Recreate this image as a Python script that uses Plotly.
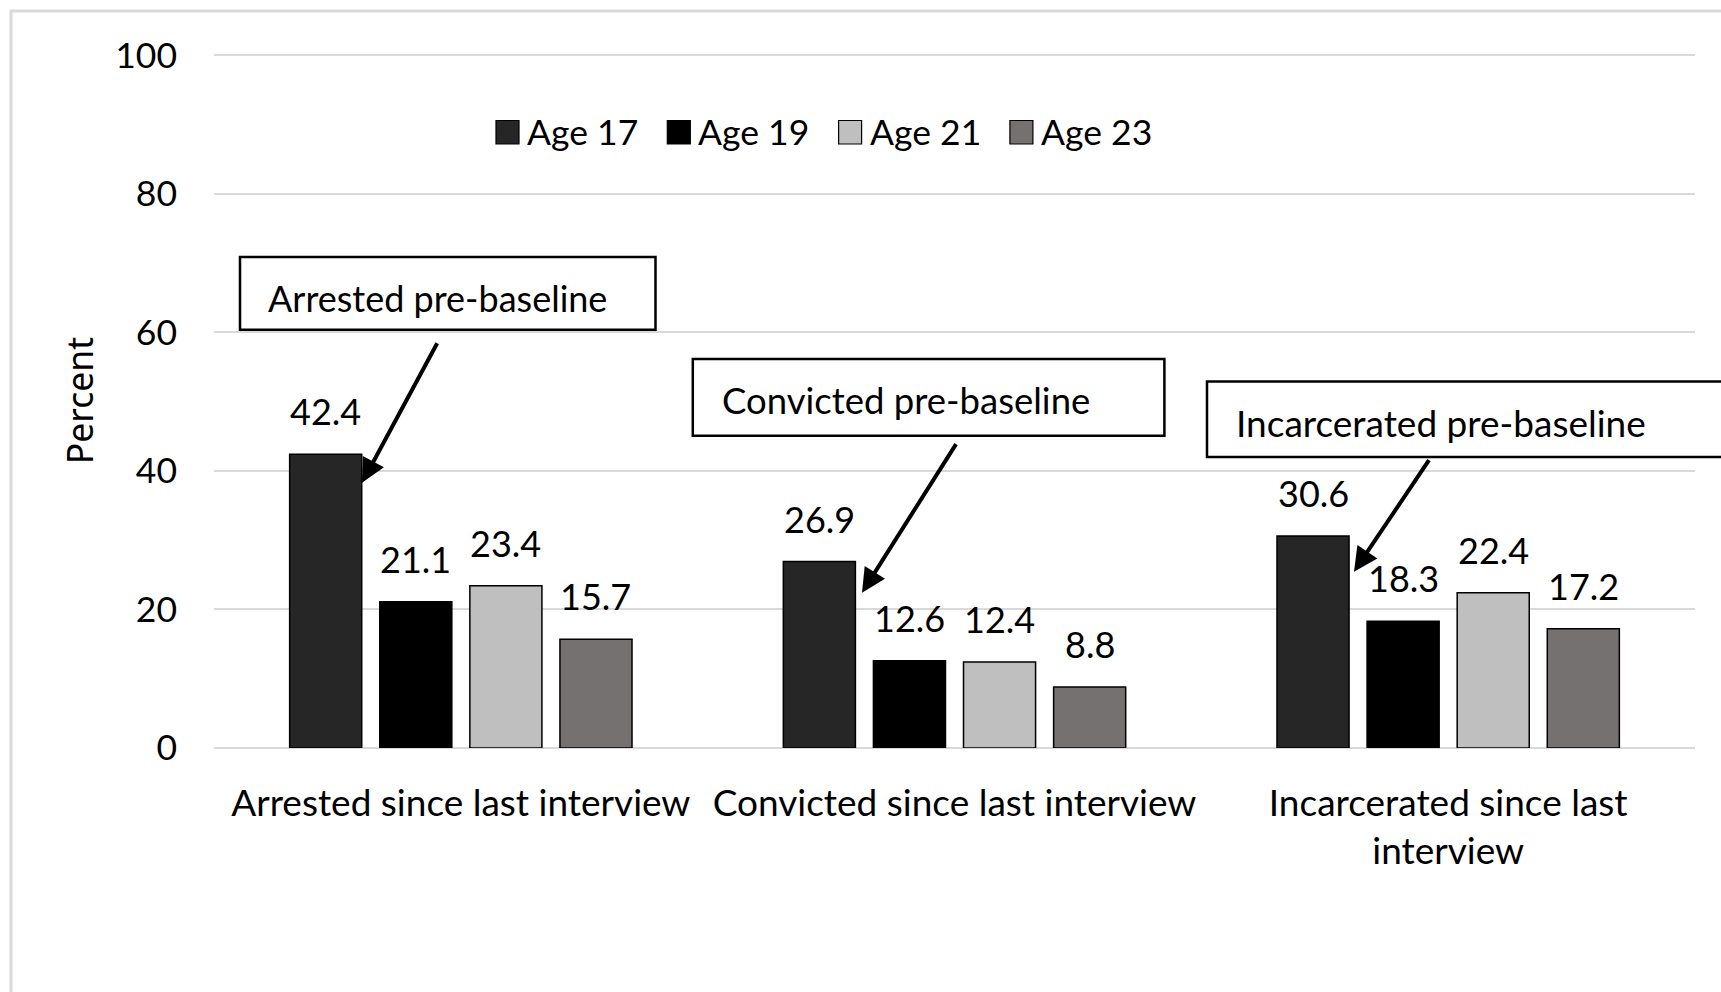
import plotly.graph_objects as go

# Categories and series values (percent)
categories = ["Arrested since last interview",
              "Convicted since last interview",
              "Incarcerated since last<br>interview"]
series_names = ["Age 17", "Age 19", "Age 21", "Age 23"]
series_colors = ["#262626", "#000000", "#bfbfbf", "#767171"]
age17 = [42.4, 26.9, 30.6]
age19 = [21.1, 12.6, 18.3]
age21 = [23.4, 12.4, 22.4]
age23 = [15.7, 8.8, 17.2]
series_values = [age17, age19, age21, age23]

callout_texts = ["Arrested pre-baseline", "Convicted pre-baseline",
                 "Incarcerated pre-baseline"]
y_ticks = [0, 20, 40, 60, 80, 100]
Y_MAX = 100.3

FONT = "Lato, Carlito, 'Liberation Sans Narrow', sans-serif"
TXT = "#000000"
BARGAP = 0.27
BARGROUPGAP = 0.2

W, H = 1721, 992
PX_PER_UNIT = 6.935
L, R, B = 214, 26, 243.5
T = H - B - Y_MAX * PX_PER_UNIT
pw, ph = W - L - R, H - T - B


def px(x):
    return (x - L) / pw


def py(y):
    return (H - B - y) / ph


fig = go.Figure()
for name, color, vals in zip(series_names, series_colors, series_values):
    fig.add_trace(go.Bar(
        x=categories, y=vals, name=name,
        marker=dict(color=color, line=dict(color="#000000", width=1.5)),
        showlegend=False,
    ))

annotations = []
shapes = []

# value labels above each bar
n = len(series_values)
slot = (1 - BARGAP) / n
for j, vals in enumerate(series_values):
    for i, v in enumerate(vals):
        annotations.append(dict(
            x=i + (j - (n - 1) / 2) * slot, y=v, xref="x", yref="y",
            text=f"{v:.1f}", showarrow=False, yanchor="middle", yshift=43,
            font=dict(family=FONT, size=36, color=TXT),
        ))

# legend row
leg_x0, leg_step, leg_sq = 496, 171.3, 23
for k, (name, color) in enumerate(zip(series_names, series_colors)):
    x0 = leg_x0 + k * leg_step
    shapes.append(dict(type="rect", xref="paper", yref="paper",
                       x0=px(x0), x1=px(x0 + leg_sq), y0=py(144), y1=py(120.5),
                       fillcolor=color, line=dict(color="#000000", width=1.2)))
    annotations.append(dict(x=px(x0 + leg_sq + 6), y=py(131), xref="paper", yref="paper",
                            text=name, showarrow=False, xanchor="left", yanchor="middle",
                            font=dict(family=FONT, size=35.5, color=TXT)))

# callout boxes
boxes = [(240, 655.5, 257, 330), (692.8, 1164.4, 359.3, 436), (1207, 1780, 381.7, 457.3)]
text_pos = [(266, 298), (720, 400), (1234, 423)]
text_sizes = [36, 36.5, 37]
for (x0, x1, y0, y1), (tx, ty), t, s in zip(boxes, text_pos, callout_texts, text_sizes):
    shapes.append(dict(type="rect", xref="paper", yref="paper",
                       x0=px(x0), x1=px(x1), y0=py(y1), y1=py(y0),
                       fillcolor="white", line=dict(color="#000000", width=2.5)))
    annotations.append(dict(x=px(tx), y=py(ty), xref="paper", yref="paper",
                            text=t, showarrow=False, xanchor="left", yanchor="middle",
                            font=dict(family=FONT, size=s, color=TXT)))

# arrows from callouts to bars: (tip, tail) in pixels
arrows = [((362, 483), (438, 342)), ((862, 593), (957, 443)), ((1354, 572), (1430, 459))]
for (tx, ty), (sx, sy) in arrows:
    annotations.append(dict(x=px(tx), y=py(ty), xref="paper", yref="paper",
                            ax=sx - tx, ay=sy - ty, text="", showarrow=True,
                            arrowhead=2, arrowsize=1.2, arrowwidth=4,
                            arrowcolor="#000000", standoff=0))

# outer chart frame
shapes.append(dict(type="rect", xref="paper", yref="paper", layer="below",
                   x0=px(11), x1=px(1800), y0=py(1100), y1=py(11),
                   line=dict(color="#d9d9d9", width=3)))

fig.update_layout(
    width=W, height=H,
    margin=dict(l=L, r=R, t=T, b=B, autoexpand=False),
    paper_bgcolor="white", plot_bgcolor="white",
    barmode="group", bargap=BARGAP, bargroupgap=BARGROUPGAP,
    font=dict(family=FONT, size=34, color=TXT),
    annotations=annotations, shapes=shapes,
    xaxis=dict(showgrid=False, showline=False, ticks="", ticklabelstandoff=30,
               tickfont=dict(family=FONT, size=37, color=TXT)),
    yaxis=dict(range=[0, Y_MAX], tickvals=y_ticks, showgrid=True, gridcolor="#d9d9d9",
               gridwidth=2, zeroline=True, zerolinecolor="#d9d9d9", zerolinewidth=2,
               showline=False, ticks="", ticklabelstandoff=36,
               tickfont=dict(family=FONT, size=35.5, color=TXT),
               title=dict(text="Percent", standoff=10,
                          font=dict(family="'Noto Sans', 'Open Sans', sans-serif",
                                    size=35.5, color=TXT))),
)

fig.write_html("out.html")
